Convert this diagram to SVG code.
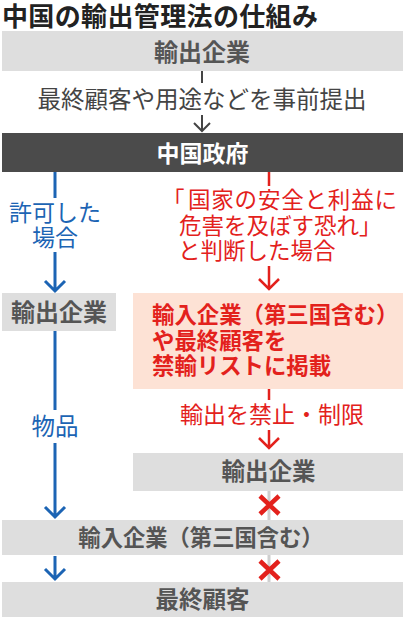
<svg xmlns="http://www.w3.org/2000/svg" width="413" height="620" viewBox="0 0 413 620">
<style>
text{font-family:"Noto Sans CJK JP","Noto Sans CJK SC",sans-serif}
.box{fill:#dedede}
.dark{fill:#4b4b4b}
.pink{fill:#fde2d5}
.bt{font-weight:700;font-size:23.5px;fill:#555;text-anchor:middle}
.wt{font-weight:700;font-size:23px;fill:#fff;text-anchor:middle}
.gt{font-size:23.5px;fill:#444;text-anchor:middle}
.blt{font-size:23px;fill:#1c64b4;text-anchor:middle}
.rt{font-size:22.5px;fill:#e3211c}
.rbt{font-size:22.4px;font-weight:700;fill:#e3211c}
.k{stroke:#444;stroke-width:2;fill:none}
.b{stroke:#1c64b4;stroke-width:3;fill:none}
.r{stroke:#e3211c;stroke-width:2.5;fill:none}
.x{stroke:#e3211c;stroke-width:4.5;fill:none}
.gl{stroke:#cfcfcf;stroke-width:3;fill:none}
</style>
<rect width="413" height="620" fill="#fff"/>
<text x="2" y="26" textLength="316" style="font-weight:700;font-size:26px;fill:#222">中国の輸出管理法の仕組み</text>

<g id="connectors">
  <line class="k" x1="202" y1="71" x2="202" y2="83"/>
  <text class="gt" x="202" y="108">最終顧客や用途などを事前提出</text>
  <path class="k" d="M202 115V131M194 123L202 131L210 123"/>

  <path class="b" d="M55 172V198M55 252V291M45 281L55 291L65 281"/>
  <text class="blt" x="55" y="221">許可した</text>
  <text class="blt" x="55" y="246">場合</text>

  <path class="b" d="M55 331V410M55 443V517M45 507L55 517L65 507"/>
  <text class="blt" x="55" y="435" style="font-size:23.5px">物品</text>

  <path class="b" d="M55 556V579M45 569L55 579L65 569"/>

  <path class="r" d="M269 172V186M269 266V289M259 279L269 289L279 279"/>
  <text class="rt" y="208"><tspan x="162">「</tspan><tspan x="188" textLength="209">国家の安全と利益に</tspan></text>
  <text class="rt" x="179" y="233.5">危害を及ぼす恐れ」</text>
  <text class="rt" x="178" y="259">と判断した場合</text>

  <path class="r" d="M269 389V400M269 430V448M259 438L269 448L279 438"/>
  <text class="rt" x="180" y="423" style="font-size:23px">輸出を禁止・制限</text>

  <line class="gl" x1="269" y1="491" x2="269" y2="520"/>
  <path class="x" d="M260 496L279 514M279 496L260 514"/>
  <line class="gl" x1="269" y1="555" x2="269" y2="582"/>
  <path class="x" d="M260 561L279 579M279 561L260 579"/>
</g>

<g id="node-exporter-top">
  <rect class="box" x="2" y="31" width="401" height="40"/>
  <text class="bt" x="202" y="61" style="font-size:24px">輸出企業</text>
</g>
<g id="node-government">
  <rect class="dark" x="2" y="133" width="401" height="39"/>
  <text class="wt" x="202.5" y="162">中国政府</text>
</g>
<g id="node-exporter-left">
  <rect class="box" x="2" y="293" width="114" height="38"/>
  <text class="bt" x="59" y="321" style="font-size:24px">輸出企業</text>
</g>
<g id="node-blacklist">
  <rect class="pink" x="133" y="293" width="270" height="96"/>
  <text class="rbt" x="152" y="323">輸入企業（第三国含む）</text>
  <text class="rbt" x="152" y="349">や最終顧客を</text>
  <text class="rbt" x="152" y="374">禁輸リストに掲載</text>
</g>
<g id="node-exporter-right">
  <rect class="box" x="133" y="453" width="270" height="38"/>
  <text class="bt" x="268.5" y="480">輸出企業</text>
</g>
<g id="node-importer">
  <rect class="box" x="2" y="520" width="401" height="35"/>
  <text class="bt" x="201" y="546" style="font-size:22.3px">輸入企業（第三国含む）</text>
</g>
<g id="node-enduser">
  <rect class="box" x="2" y="582" width="401" height="35"/>
  <text class="bt" x="202.5" y="608">最終顧客</text>
</g>
</svg>
